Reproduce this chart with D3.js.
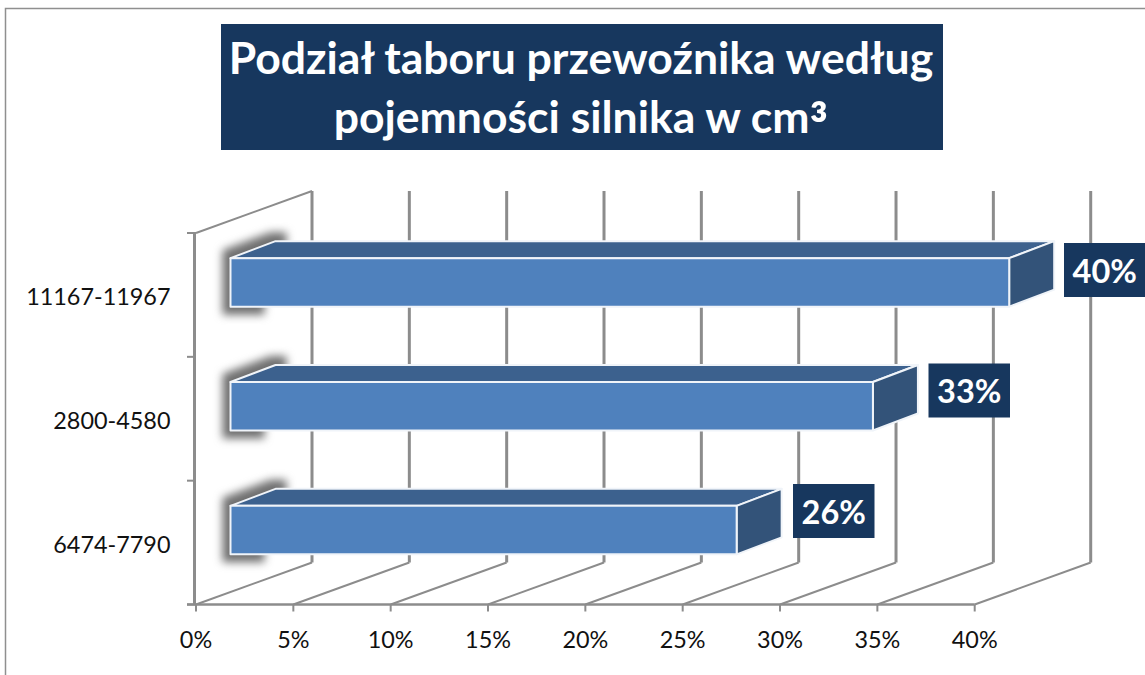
<!DOCTYPE html>
<html><head><meta charset="utf-8"><script src="https://cdn.jsdelivr.net/npm/d3@7"></script>
<style>html,body{margin:0;background:#fff}svg{display:block}text{font-family:Lato,"Open Sans",sans-serif}</style></head>
<body><svg id="c" width="1145" height="675"></svg>
<script>
const categories = ["6474-7790","2800-4580","11167-11967"];
const values = [26,33,40];
const tickValues = [0,5,10,15,20,25,30,35,40];
const titleLine1 = "Podział taboru przewoźnika według";
const titleLine2 = "pojemności silnika w cm";
const titleSup = "³";

const svg = d3.select("#c");
const defs = svg.append("defs");
defs.append("filter").attr("id","blur").attr("color-interpolation-filters","sRGB")
  .attr("x","-40%").attr("y","-40%").attr("width","180%").attr("height","180%")
  .append("feGaussianBlur").attr("stdDeviation",4.5);

const floorY = 604.5, wallTopY = 233;
const x = d3.scaleLinear().domain([0,40]).range([196,974.7]);
const y = d3.scaleBand().domain(categories).range([floorY,wallTopY]);
const wall = {dx:116, dy:-42};
const barOff = 34.5, depth = {dx:45, dy:-17};
const grey = "#8c8c8c";

// frame
svg.append("rect").attr("x",5.5).attr("y",8.5).attr("width",1145).attr("height",680)
  .attr("fill","#fff").attr("stroke","#8f8f8f").attr("stroke-width",1.5);

// title
svg.append("rect").attr("x",221).attr("y",24).attr("width",722).attr("height",126).attr("fill","#17375e");
const titleAttrs = s => s.attr("x",581).attr("text-anchor","middle").attr("fill","#fff").attr("font-size",44.5).attr("font-weight",700);
svg.append("text").call(titleAttrs).attr("y",74).text(titleLine1);
const t2 = svg.append("text").call(titleAttrs).attr("y",133);
t2.append("tspan").text(titleLine2);
t2.append("tspan").attr("font-size",56).attr("dy",15).text(titleSup);

// floor + walls
const g = svg.append("g").attr("fill","none").attr("stroke",grey);
tickValues.forEach(v=>{
  g.append("line").attr("x1",x(v)).attr("y1",floorY).attr("x2",x(v)+wall.dx).attr("y2",floorY+wall.dy).attr("stroke-width",2);
  g.append("line").attr("x1",x(v)+wall.dx).attr("y1",floorY+wall.dy).attr("x2",x(v)+wall.dx).attr("y2",wallTopY+wall.dy).attr("stroke-width",3);
  g.append("line").attr("x1",x(v)).attr("y1",floorY).attr("x2",x(v)).attr("y2",floorY+7).attr("stroke-width",2);
});
g.append("line").attr("x1",x(0)).attr("y1",wallTopY).attr("x2",x(0)+wall.dx).attr("y2",wallTopY+wall.dy).attr("stroke-width",2);
g.append("line").attr("x1",x(0)-1.5).attr("y1",wallTopY).attr("x2",x(0)-1.5).attr("y2",floorY).attr("stroke-width",3);
g.append("line").attr("x1",x(0)-9).attr("y1",floorY).attr("x2",x(40)).attr("y2",floorY).attr("stroke-width",2.5);
d3.range(4).forEach(i=>{
  const ty = floorY - i*y.step();
  g.append("line").attr("x1",x(0)-9).attr("y1",ty).attr("x2",x(0)).attr("y2",ty).attr("stroke-width",2);
});

// axis labels
svg.selectAll(".xl").data(tickValues).join("text").attr("class","xl")
  .attr("x",d=>x(d)).attr("y",648).attr("text-anchor","middle")
  .attr("font-size",23.4).attr("fill","#111").text(d=>d+"%");
svg.selectAll(".yl").data(categories).join("text").attr("class","yl")
  .attr("x",170.5).attr("y",d=>y(d)+y.bandwidth()/2+10).attr("text-anchor","end")
  .attr("font-size",23.4).attr("fill","#111").text(d=>d);

// bars
const barW = 48.5, barTop = c => y(c)+y.bandwidth()/2-barW/2-12.5;
const xb = v => x(v)+barOff;
const labelX = d3.scaleLinear().domain([26,40]).range([793,1064]);
const labelY = d3.scalePoint().domain(categories).range([484,243]);
categories.forEach((c,i)=>{
  const v = values[i], t = barTop(c), b = t+barW, l = xb(0), r = xb(v);
  // shadow
  svg.append("path").attr("filter","url(#blur)").attr("fill","#707070")
    .attr("d",`M${l-8},${b+8}L${l+34},${b+8}L${l+34},${t-2}L${l+56},${t-13}L${l+56},${t-26}L${l+40},${t-26}L${l-8},${t-8}Z`);
  const st = {stroke:"#f0f4f9","stroke-width":2,"stroke-linejoin":"round"};
  const poly=(pts,fill)=>{const p=svg.append("polygon").attr("points",pts.map(q=>q.join(",")).join(" ")).attr("fill",fill);
    Object.entries(st).forEach(([k,val])=>p.attr(k,val));};
  poly([[l,t],[l+depth.dx,t+depth.dy],[r+depth.dx,t+depth.dy],[r,t]],"#3c618e");
  poly([[r,t],[r+depth.dx,t+depth.dy],[r+depth.dx,b+depth.dy],[r,b]],"#335379");
  poly([[l,t],[r,t],[r,b],[l,b]],"#4f81bd");
  // value label
  const lx = labelX(v), lw = 81.5, lh = 54, ly = labelY(c);
  svg.append("rect").attr("x",lx).attr("y",ly).attr("width",lw).attr("height",lh).attr("fill","#17375e");
  svg.append("text").attr("x",lx+lw/2).attr("y",ly+39.5).attr("text-anchor","middle")
    .attr("fill","#fff").attr("font-size",32.5).attr("font-weight",700).text(v+"%");
});
</script></body></html>
